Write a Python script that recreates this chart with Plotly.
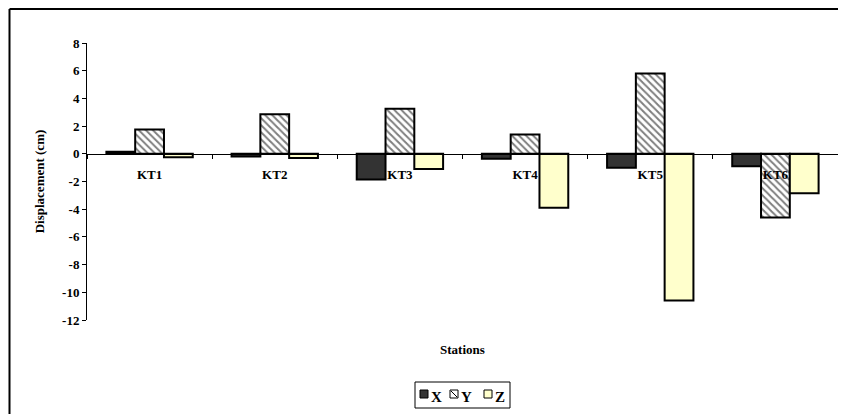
import plotly.graph_objects as go

stations = ["KT1", "KT2", "KT3", "KT4", "KT5", "KT6"]
x_vals = [0.15, -0.2, -1.85, -0.35, -1.0, -0.9]
y_vals = [1.75, 2.85, 3.25, 1.4, 5.8, -4.6]
z_vals = [-0.25, -0.3, -1.1, -3.9, -10.6, -2.85]
y_tick_vals = [8, 6, 4, 2, 0, -2, -4, -6, -8, -10, -12]
y_tick_text = ["8", "6", "4", "2", "0", "-2", "-4", "-6", "-8", "-10", "-12"]
series_names = ["X", "Y", "Z"]
series_colors = ["#333333", "white", "#FFFFCC"]

FONT = "Liberation Serif, Times New Roman, serif"

fig = go.Figure()
for name, vals, col in zip(series_names, [x_vals, y_vals, z_vals], series_colors):
    marker = dict(color=col, line=dict(color="black", width=2))
    if name == "Y":
        marker["pattern"] = dict(shape="\\", fgcolor="black", bgcolor="white",
                                 size=5, solidity=0.4)
    fig.add_trace(go.Bar(name=name, x=stations, y=vals, marker=marker))

# page has an 8px body margin; plot area on screen: x 87..838, y 43..320
def px(xp):
    return (xp - 87) / 751.0

def py(yp):
    return (320 - yp) / 277.0

shapes = [
    dict(type="line", xref="paper", yref="paper", x0=px(9.5), x1=px(9.5),
         y0=py(9), y1=py(420), line=dict(color="black", width=2)),
    dict(type="line", xref="paper", yref="paper", x0=px(9.5), x1=px(850),
         y0=py(9), y1=py(9), line=dict(color="black", width=2)),
    # legend box
    dict(type="rect", xref="paper", yref="paper", x0=px(415), x1=px(510),
         y0=py(382), y1=py(408), line=dict(color="black", width=1), fillcolor="white"),
]
annotations = [dict(text="Stations", x=0.5, y=py(349), xref="paper", yref="paper",
                    xanchor="center", yanchor="middle", showarrow=False,
                    font=dict(family=FONT, size=13, weight="bold"))]

sq_x = [420, 450, 484]
for i, (name, col) in enumerate(zip(series_names, series_colors)):
    x0 = sq_x[i]
    shapes.append(dict(type="rect", xref="paper", yref="paper", x0=px(x0), x1=px(x0 + 8),
                       y0=py(390), y1=py(398), line=dict(color="black", width=1),
                       fillcolor=col))
    if name == "Y":
        shapes.append(dict(type="line", xref="paper", yref="paper", x0=px(x0 + 1),
                           x1=px(x0 + 7), y0=py(391), y1=py(397),
                           line=dict(color="black", width=1)))
    annotations.append(dict(text=name, x=px(x0 + 9), y=py(397), xref="paper", yref="paper",
                            xanchor="left", yanchor="middle", showarrow=False,
                            font=dict(family=FONT, size=15, weight="bold")))

fig.update_layout(
    width=838, height=406,
    margin=dict(l=79, r=8, t=35, b=94, autoexpand=False),
    paper_bgcolor="white", plot_bgcolor="white",
    font=dict(family=FONT, size=13, color="black", weight="bold"),
    barmode="group", bargap=0.31, bargroupgap=0,
    showlegend=False,
    xaxis=dict(anchor="free", position=0.6, showline=True, linecolor="black", linewidth=1,
               ticks="outside", tickson="boundaries", ticklen=4, tickcolor="black",
               ticklabelstandoff=9, showgrid=False, zeroline=False, fixedrange=True,
               automargin=False,
               tickfont=dict(family=FONT, size=13, weight="bold")),
    yaxis=dict(range=[-12, 8], tickvals=y_tick_vals, ticktext=y_tick_text,
               showline=True, linecolor="black", linewidth=1, automargin=False,
               ticks="outside", ticklen=4, tickcolor="black", showgrid=False,
               zeroline=False, tickfont=dict(family=FONT, size=13, weight="bold"),
               title=dict(text="Displacement (cm)", standoff=14,
                          font=dict(family=FONT, size=13, weight="bold"))),
    annotations=annotations,
    shapes=shapes,
)

fig.write_html("out.html")
